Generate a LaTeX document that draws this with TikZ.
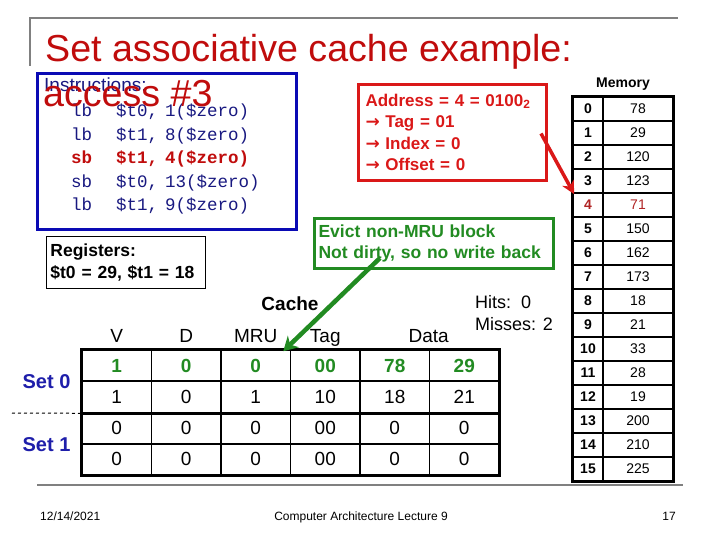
\documentclass[tikz,border=0pt]{standalone}
\usepackage{fontspec}
\setmainfont{Liberation Sans}
\setmonofont{Liberation Mono}
\newfontfamily\arrowfont{DejaVu Sans}
\usetikzlibrary{positioning,arrows.meta}
\definecolor{titlered}{RGB}{192,12,12}
\definecolor{addrred}{RGB}{218,24,24}
\definecolor{memred}{RGB}{176,36,36}
\definecolor{boxblue}{RGB}{10,10,180}
\definecolor{navy}{RGB}{24,24,128}
\definecolor{setblue}{RGB}{30,30,170}
\definecolor{evgreen}{RGB}{34,139,34}
\definecolor{framegray}{RGB}{128,128,128}

\begin{document}
\begin{tikzpicture}[x=1pt,y=-1pt,>=Stealth,
    cell/.style={draw,line width=1.6pt,minimum width=69.5pt,minimum height=31.25pt,inner sep=0pt,font=\fontsize{19}{19}\selectfont},
    greenrow/.code={\ifnum#1=1 \pgfkeysalso{text=evgreen,font=\fontsize{19}{19}\selectfont\bfseries}\fi},
    memcell/.style={draw,line width=1.6pt,minimum height=24pt,inner sep=0pt,font=\fontsize{14}{14}\selectfont},
    memrow/.code={\ifnum#1=4 \pgfkeysalso{text=memred}\fi},
    code/.style={anchor=base west,inner sep=0pt,text=navy,font=\fontsize{17.5}{17.5}\selectfont\ttfamily},
    coderow/.code={\ifnum#1=2 \pgfkeysalso{text=titlered,font=\fontsize{17.5}{17.5}\selectfont\ttfamily\bfseries}\fi},
    head/.style={anchor=base,inner sep=0pt,font=\fontsize{19}{19}\selectfont},
    note/.style={anchor=north west,align=left,font=\fontsize{17}{21.5}\selectfont\bfseries},
    big/.style={anchor=base west,inner sep=0pt,text=titlered,font=\fontsize{37.6}{37.6}\selectfont}]
  \useasboundingbox (0,0) rectangle (720,540);
  \draw[framegray,line width=2.5pt] (30,66) -- (30,18) -- (678,18);
  \draw[framegray,line width=2.5pt] (37,485) -- (683,485);
  \node[big] (title) at (45,62) {Set associative cache example:};

  \node[draw=boxblue,line width=3pt,minimum width=259pt,minimum height=156pt,anchor=north west] (instr) at (36,72) {};
  \node[anchor=base west,inner sep=0pt,text=navy,font=\fontsize{19}{19}\selectfont] (instrlabel) at (44,92) {Instructions:};
  \foreach \op/\reg/\ofs [count=\k from 0] in {lb/t0/1,lb/t1/8,sb/t1/4,sb/t0/13,lb/t1/9}
    \node[code,coderow=\k] (ins\k) at (71,116.5+23.6*\k) {\makebox[45pt][l]{\op}\makebox[49pt][l]{\$\reg,}\ofs(\$zero)};
  \node[big] (access) at (43,107) {access \#3};

  \node[draw,line width=0.8pt,note,minimum width=159pt,minimum height=52pt,text width=151pt,inner xsep=4pt,font=\fontsize{17.5}{22}\selectfont\bfseries] (regs) at (46,236) {Registers:\\\$t0 = 29, \$t1 = 18};
  \node[draw=addrred,line width=3pt,note,text=addrred,minimum height=96pt,text width=180pt,inner xsep=4pt] (addr) at (357,83)
    {\hspace*{3pt}Address = 4 = 0100\textsubscript{2}\\\hspace*{3pt}{\arrowfont →} Tag = 01\\\hspace*{3pt}{\arrowfont →} Index = 0\\\hspace*{3pt}{\arrowfont →} Offset = 0};
  \node[draw=evgreen,line width=3pt,note,text=evgreen,minimum height=50pt,text width=231pt,inner xsep=4pt,font=\fontsize{17.5}{21}\selectfont\bfseries] (evict) at (313,217)
    {Evict non-MRU block\\Not dirty, so no write back};

  \node[anchor=base,inner sep=0pt,font=\fontsize{14}{14}\selectfont\bfseries] (memtitle) at (623,88) {Memory};
  \foreach \v [count=\i from 0] in {78,29,120,123,71,150,162,173,18,21,33,28,19,200,210,225} {
    \node[memcell,memrow=\i,minimum width=30pt,font=\fontsize{14}{14}\selectfont\bfseries] (mi\i) at (588,109+24*\i) {\i};
    \node[memcell,memrow=\i,minimum width=70pt] (mv\i) at (638,109+24*\i) {\v};
  }
  \draw[line width=3pt] (mi0.north west) rectangle (mv15.south east);

  \node[anchor=base,inner sep=0pt,font=\fontsize{19}{19}\selectfont\bfseries] (cache) at (290,310) {Cache};
  \node[anchor=base west,inner sep=0pt,font=\fontsize{18}{18}\selectfont] (hits) at (475,308) {Hits:\ \ 0};
  \node[anchor=base west,inner sep=0pt,font=\fontsize{18}{18}\selectfont] (misses) at (475,330) {Misses: 2};
  \foreach \h [count=\j] in {V,D,MRU,Tag}
    \node[head] (head\j) at (82+69.5*\j-34.75,342) {\h};
  \foreach \row [count=\i] in {{1,0,0,00,78,29},{1,0,1,10,18,21},{0,0,0,00,0,0},{0,0,0,00,0,0}}
    \foreach \v [count=\j] in \row
      \node[cell,greenrow=\i] (c\i\j) at (82+69.5*\j-34.75,350+31.25*\i-15.625) {\v};
  \node[head] (headdata) at (c16.north west |- head1.base) {Data};
  \draw[line width=2.6pt] (c11.north west) rectangle (c46.south east);
  \draw[line width=2.6pt] (c21.south west) -- (c26.south east);
  \node[text=setblue,inner sep=0pt,font=\fontsize{20}{20}\selectfont\bfseries] (set0) at (46.5,381.5) {Set 0};
  \node[text=setblue,inner sep=0pt,font=\fontsize{20}{20}\selectfont\bfseries] (set1) at (46.5,445) {Set 1};
  \coordinate (dashstart) at (12,413);
  \draw[dashed,line width=1pt] (dashstart) -- (c21.south west);

  \draw[addrred,line width=3.5pt,-{Stealth[length=13pt,width=13pt]}] ([xshift=-7pt,yshift=-1pt]addr.east) -- ([xshift=2pt,yshift=-2pt]mi4.north west);
  \draw[evgreen,line width=4.5pt,-{Stealth[length=14pt,width=16pt]}] ([xshift=67pt,yshift=12pt]evict.south west) -- ([xshift=-8pt,yshift=-2pt]c13.north east);

  \node[anchor=base west,inner sep=0pt,font=\fontsize{12}{12}\selectfont] (date) at (40,520) {12/14/2021};
  \node[anchor=base,inner sep=0pt,font=\fontsize{12}{12}\selectfont] (footer) at (361,520) {Computer Architecture Lecture 9};
  \node[anchor=base east,inner sep=0pt,font=\fontsize{12}{12}\selectfont] (page) at (676,520) {17};
\end{tikzpicture}
\end{document}
